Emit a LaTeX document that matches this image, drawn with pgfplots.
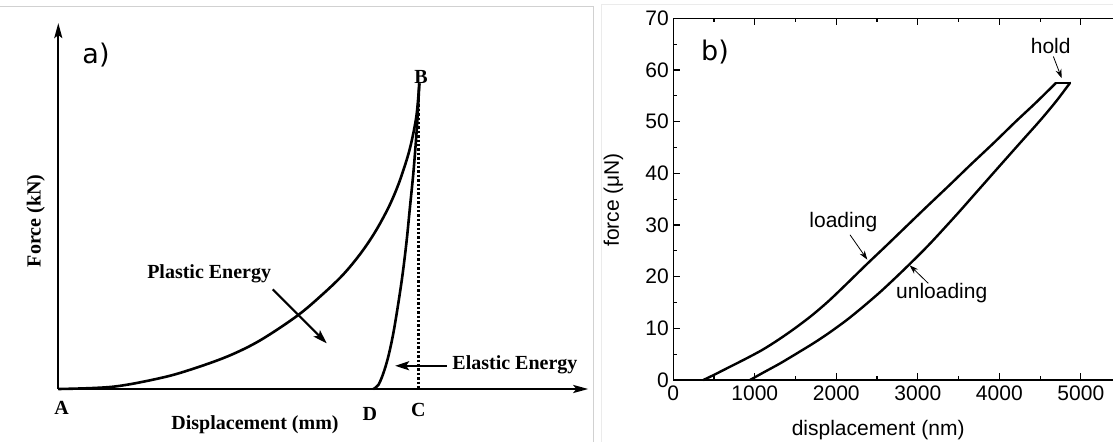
\documentclass[border=0pt]{standalone}
\usepackage{fontspec}
\setmainfont{Liberation Sans}
\newfontfamily\tnr{Liberation Serif}
\newfontfamily\dvs{DejaVu Sans}
\usepackage{pgfplots}
\pgfplotsset{compat=1.18}
\usetikzlibrary{arrows.meta}

\begin{document}
\begin{tikzpicture}
\useasboundingbox (0pt,0pt) rectangle (1113pt,442pt);
\fill[white] (0pt,0pt) rectangle (1113pt,442pt);
\draw[black!18, line width=1pt] (0pt,435.6pt) -- (593.3pt,435.6pt) -- (593.3pt,0pt);
\draw[black!8, line width=1pt] (601.7pt,0pt) -- (601.7pt,437pt) -- (1113pt,437pt);

% ---------------- panel a ----------------
\begin{axis}[at={(58.3pt,53pt)}, anchor=south west, scale only axis,
  width=361pt, height=305.7pt, xmin=0, xmax=10, ymin=0, ymax=10,
  axis lines=none, clip=false]
\draw[line width=2.2pt, -{Stealth[length=15pt,width=8pt,inset=3pt]}] (axis cs:0,0) -- (axis cs:0,11.97);
\draw[line width=2.2pt, -{Stealth[length=15pt,width=8pt,inset=3pt]}] (axis cs:0,0) -- (axis cs:14.68,0);
\draw[line width=3pt, dash pattern=on 2.4pt off 2pt] (axis cs:9.97,9.6) -- (axis cs:9.97,0);
% loading curve A -> B
\addplot[black, line width=2.6pt, smooth, tension=0.55] coordinates {
 (0,0) (1.524,0.076) (2.909,0.38) (3.833,0.70) (4.756,1.10) (5.604,1.60)
 (6.624,2.40) (7.324,3.10) (7.896,3.75) (8.378,4.44) (8.783,5.15) (9.156,5.96)
 (9.433,6.73) (9.677,7.60) (9.814,8.25) (9.930,9.02) (10,10)};
% unloading curve D -> B
\addplot[black, line width=2.6pt, smooth, tension=0.55] coordinates {
 (8.726,0) (8.864,0.13) (9.003,0.51) (9.141,1.06) (9.280,1.82) (9.418,2.80)
 (9.540,3.78) (9.651,4.87) (9.742,5.96) (9.834,7.05) (9.909,8.15) (9.958,9.02) (10,10)};
\draw[line width=2.2pt, -{Stealth[length=14pt,width=9pt,inset=3pt]}] (axis cs:5.94,3.26) -- (axis cs:7.435,1.495);
\draw[line width=2.2pt, -{Stealth[length=14pt,width=9pt,inset=3pt]}] (axis cs:10.76,0.76) -- (axis cs:9.33,0.76);
\begin{scope}[every node/.style={font=\tnr\bfseries\fontsize{20}{22}\selectfont, inner sep=0pt}]
\node at (axis cs:0.094,-0.63) {A};
\node at (axis cs:10.05,10.2) {B};
\node at (axis cs:9.97,-0.69) {C};
\node at (axis cs:8.63,-0.82) {D};
\node at (axis cs:5.45,-1.18) {Displacement (mm)};
\node[rotate=90] at (axis cs:-0.626,5.50) {Force (kN)};
\node at (axis cs:4.18,3.78) {Plastic Energy};
\node at (axis cs:12.65,0.785) {Elastic Energy};
\end{scope}
\node[font=\dvs\fontsize{27}{30}\selectfont, inner sep=0pt] at (axis cs:1.044,10.93) {a)};
\end{axis}

% ---------------- panel b ----------------
\begin{axis}[at={(673.3pt,62pt)}, anchor=south west, scale only axis,
  width=448.3pt, height=361.7pt, xmin=0, xmax=5500, ymin=0, ymax=70,
  xtick={0,1000,...,5000}, minor x tick num=1,
  ytick={0,10,...,70}, minor y tick num=1,
  tick align=inside, major tick length=7pt, minor tick length=4pt,
  axis line style={line width=1.4pt},
  every tick/.style={black, line width=1.2pt},
  scaled x ticks=false,
  /pgf/number format/assume math mode=true,
  /pgf/number format/1000 sep={},
  tick label style={font=\fontsize{21}{23}\selectfont},
  xticklabel style={yshift=-2pt},
  yticklabel style={xshift=-1pt},
  every axis x label/.style={at={(axis description cs:0.457,-0.138)}, anchor=center, font=\fontsize{21}{23}\selectfont},
  every axis y label/.style={at={(axis description cs:-0.1338,0.498)}, rotate=90, anchor=center, font=\fontsize{21}{23}\selectfont},
  xlabel={displacement (nm)}, ylabel={force (μN)},
  clip=false]
% loading
\addplot[black, line width=2.4pt, smooth, tension=0.5, line cap=round] coordinates {
 (368,0) (500,1.0) (700,2.6) (900,4.2) (1100,5.9) (1300,7.9) (1500,10.1)
 (1700,12.5) (1900,15.2) (2100,18.2) (2373,22.4) (2600,25.8) (2863,29.8)
 (3100,33.4) (3394,37.8) (3650,41.7) (3926,45.8) (4200,50.0) (4450,53.7) (4695,57.5)};
% hold
\addplot[black, line width=2.4pt, line cap=round] coordinates {(4695,57.5) (4867,57.5)};
% unloading
\addplot[black, line width=2.4pt, smooth, tension=0.5, line cap=round] coordinates {
 (941,0) (1100,1.4) (1309,3.2) (1500,5.0) (1718,7.1) (1900,9.0) (2127,11.6)
 (2330,14.2) (2536,17.0) (2720,19.7) (2904,22.5) (3150,26.4) (3476,32.0)
 (3700,36.0) (4008,41.5) (4250,45.8) (4499,50.2) (4700,54.0) (4867,57.5)};
\begin{scope}[every node/.style={font=\fontsize{21}{23}\selectfont, inner sep=0pt}]
\node at (axis cs:2086,30.6) {loading};
\node at (axis cs:3293,16.8) {unloading};
\node at (axis cs:4630,64.6) {hold};
\end{scope}
\draw[line width=0.8pt, -{Stealth[length=9pt,width=6pt]}] (axis cs:2168,28.1) -- (axis cs:2380,23.3);
\draw[line width=0.8pt, -{Stealth[length=9pt,width=6pt]}] (axis cs:3129,18.7) -- (axis cs:2900,22.2);
\draw[line width=0.8pt, -{Stealth[length=9pt,width=6pt]}] (axis cs:4663,62.6) -- (axis cs:4765,58.4);
\node[font=\dvs\fontsize{27}{30}\selectfont, inner sep=0pt] at (axis cs:512,63.5) {b)};
\end{axis}
\end{tikzpicture}
\end{document}
